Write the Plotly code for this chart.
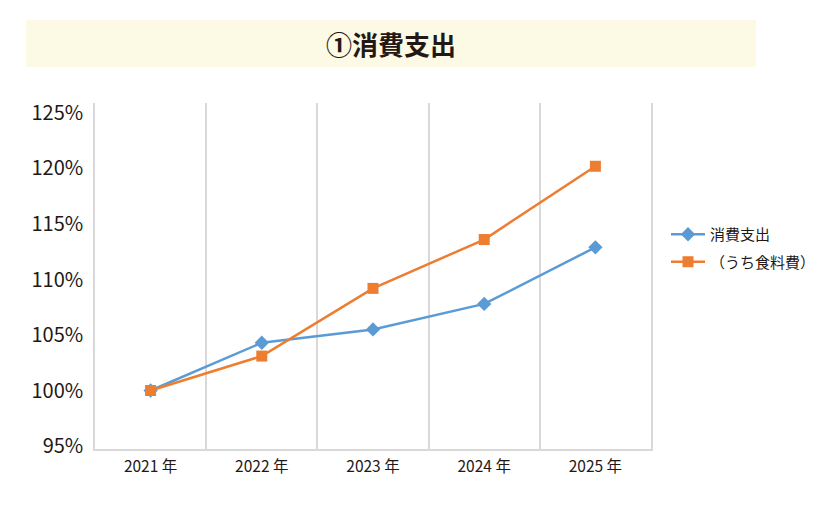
import plotly.graph_objects as go

years = ["2021 年", "2022 年", "2023 年", "2024 年", "2025 年"]
consumption = [100.0, 104.3, 105.5, 107.8, 112.9]
food = [100.0, 103.1, 109.2, 113.6, 120.2]
ytick_vals = [95, 100, 105, 110, 115, 120, 125]
ytick_text = ["95%", "100%", "105%", "110%", "115%", "120%", "125%"]
series_names = ["消費支出", "（うち食料費）"]
title_text = "①消費支出"

FONT = "Noto Sans CJK JP, Noto Sans, sans-serif"
TXT = "#231815"
GRID = "#d9d9d9"

fig = go.Figure()
fig.add_trace(go.Scatter(
    x=years, y=consumption, name=series_names[0], mode="lines+markers",
    legendgroup="a",
    line=dict(color="#5B9BD5", width=2.5),
    marker=dict(symbol="diamond", size=11, color="#5B9BD5"),
))
fig.add_trace(go.Scatter(
    x=years, y=food, name=series_names[1], mode="lines+markers",
    legendgroup="b",
    line=dict(color="#ED7D31", width=2.5),
    marker=dict(symbol="square", size=11, color="#ED7D31"),
))

# title box
fig.add_shape(type="rect", xref="paper", yref="paper",
              x0=(26 - 95) / 556, x1=(756 - 95) / 556,
              y0=(449 - 67) / 346, y1=(449 - 20) / 346,
              fillcolor="#FCF9E4", line=dict(width=0), layer="below")
fig.add_annotation(xref="paper", yref="paper",
                   x=(391 - 95) / 556, y=(449 - 44) / 346,
                   text="<b>" + title_text + "</b>", showarrow=False,
                   font=dict(family=FONT, size=26, color=TXT),
                   xanchor="center", yanchor="middle")

fig.update_layout(
    width=812, height=511,
    margin=dict(l=87, r=169, t=95, b=70, autoexpand=False),
    paper_bgcolor="white", plot_bgcolor="white",
    font=dict(family=FONT, color=TXT),
    showlegend=True,
    legend=dict(x=(666 - 95) / 556, y=(449 - 218) / 346, xanchor="left", yanchor="top",
                font=dict(family=FONT, size=15, color=TXT),
                bgcolor="rgba(0,0,0,0)", tracegroupgap=5, itemwidth=34),
    xaxis=dict(
        type="category", range=[-0.5, 4.5], tickson="boundaries", showgrid=True,
        gridcolor=GRID, gridwidth=1.5,
        showline=True, linecolor=GRID, linewidth=1.5, ticks="",
        tickfont=dict(family=FONT, size=15.5, color=TXT), ticklabelstandoff=3,
        zeroline=False, mirror=False,
    ),
    yaxis=dict(
        range=[94.73, 125.9], tickvals=ytick_vals, ticktext=ytick_text,
        showgrid=False, zeroline=False, showline=True, linecolor=GRID, linewidth=1.5,
        mirror=True,
        ticks="", tickfont=dict(family=FONT, size=20, color=TXT), ticklabelstandoff=6,
    ),
)

fig.write_html("out.html")
